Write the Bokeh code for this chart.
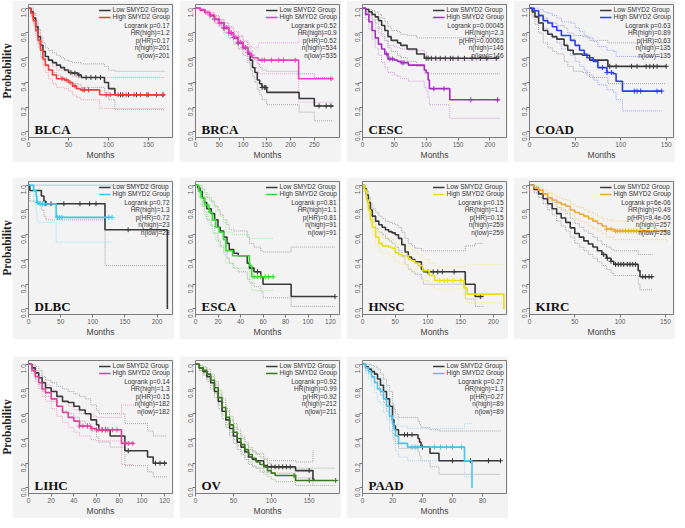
import numpy as np
from bokeh.plotting import figure
from bokeh.models import (Label, Legend, LegendItem, FixedTicker, NumeralTickFormatter,
                          Range1d, Spacer)
from bokeh.layouts import row, column
from bokeh.embed import file_html
from bokeh.resources import INLINE

# ---------------- data ----------------
LEGEND_LOW = "Low SMYD2 Group"
LEGEND_HIGH = "High SMYD2 Group"
X_TITLE = "Months"
Y_TITLE = "Probability"
Y_TICKS = [0.0, 0.2, 0.4, 0.6, 0.8, 1.0]

# BLCA
BLCA_LOW_T = [0, 3, 6, 9, 12, 15, 18, 21, 25, 30, 35, 40, 45, 50, 55, 62, 66, 95, 100, 108, 170]
BLCA_LOW_S = [1.0, .97, .92, .85, .77, .70, .65, .61, .58, .56, .54, .52, .50, .48, .475, .46, .44, .40, .35, .30, .30]
BLCA_LOW_LO = [1.0, .94, .88, .80, .71, .64, .58, .54, .50, .48, .46, .44, .42, .40, .39, .38, .36, .32, .26, .18, .18]
BLCA_LOW_HI = [1.0, 1.0, .96, .90, .83, .77, .72, .68, .66, .64, .62, .60, .58, .57, .56, .56, .55, .53, .50, .49, .49]
BLCA_LOW_CENS = [53, 58, 63, 72, 78, 84, 90, 115, 118, 125, 135, 148, 160, 168]
BLCA_HIGH_T = [0, 3, 6, 9, 12, 15, 18, 21, 25, 30, 35, 45, 50, 55, 60, 65, 89, 170]
BLCA_HIGH_S = [1.0, .96, .90, .82, .74, .66, .59, .54, .50, .46, .43, .42, .40, .37, .35, .34, .30, .30]
BLCA_HIGH_LO = [1.0, .93, .86, .77, .68, .60, .53, .48, .43, .39, .36, .35, .33, .30, .28, .26, .19, .19]
BLCA_HIGH_HI = [1.0, .99, .95, .87, .80, .73, .66, .61, .58, .53, .50, .49, .47, .45, .44, .44, .44, .44]
BLCA_HIGH_CENS = [42, 47, 52, 58, 68, 70, 75, 97, 102, 112, 122, 132, 140, 150, 160, 168]
BLCA_STATS = ["Logrank p=0.17", "HR(high)=1.2", "p(HR)=0.17", "n(high)=201", "n(low)=201"]
BLCA_XTICKS = [0, 50, 100, 150]

# BRCA
BRCA_LOW_T = [0, 10, 20, 30, 40, 50, 60, 70, 80, 90, 100, 110, 115, 120, 125, 130, 135, 140, 150, 218, 250, 290]
BRCA_LOW_S = [1.0, .985, .965, .94, .91, .88, .84, .80, .76, .72, .68, .63, .58, .52, .48, .42, .39, .36, .32, .27, .21, .21]
BRCA_LOW_LO = [1.0, .975, .95, .92, .88, .85, .80, .76, .71, .67, .62, .56, .50, .45, .40, .34, .30, .26, .22, .16, .09, .09]
BRCA_LOW_HI = [1.0, .995, .98, .96, .94, .91, .88, .85, .81, .77, .73, .69, .66, .63, .58, .55, .52, .50, .49, .47, .44, .44]
BRCA_LOW_CENS = [60, 75, 90, 105, 140, 145, 148, 260, 275, 285]
BRCA_HIGH_T = [0, 10, 20, 30, 40, 50, 60, 70, 80, 90, 100, 110, 115, 120, 132, 217, 290]
BRCA_HIGH_S = [1.0, .985, .965, .945, .91, .88, .845, .80, .765, .725, .685, .645, .62, .60, .58, .43, .43]
BRCA_HIGH_LO = [1.0, .975, .95, .925, .885, .85, .81, .76, .72, .67, .63, .58, .55, .52, .47, .24, .24]
BRCA_HIGH_HI = [1.0, .995, .98, .965, .935, .91, .88, .84, .81, .78, .74, .71, .69, .68, .72, .79, .79]
BRCA_HIGH_CENS = [30, 40, 50, 55, 60, 65, 70, 75, 80, 85, 90, 95, 100, 105, 110, 118, 140, 145, 160, 175, 185, 210, 285]
BRCA_STATS = ["Logrank p=0.52", "HR(high)=0.9", "p(HR)=0.52", "n(high)=534", "n(low)=535"]
BRCA_XTICKS = [0, 50, 100, 150, 200, 250]

# CESC
CESC_LOW_T = [0, 5, 10, 15, 20, 25, 30, 35, 40, 45, 55, 60, 70, 85, 97, 215]
CESC_LOW_S = [1.0, .99, .97, .95, .93, .90, .86, .82, .77, .74, .72, .70, .67, .63, .595, .595]
CESC_LOW_LO = [1.0, .97, .94, .91, .88, .84, .79, .74, .68, .65, .62, .60, .57, .53, .47, .47]
CESC_LOW_HI = [1.0, 1.0, .99, .98, .97, .95, .92, .89, .85, .82, .81, .79, .78, .76, .76, .76]
CESC_LOW_CENS = [100, 103, 108, 115, 122, 130, 138, 142, 150, 160, 172, 185, 195, 210]
CESC_HIGH_T = [0, 5, 10, 15, 20, 25, 30, 35, 40, 50, 55, 60, 72, 97, 100, 103, 105, 137, 215]
CESC_HIGH_S = [1.0, .95, .89, .82, .76, .71, .67, .63, .59, .58, .57, .56, .54, .50, .48, .42, .35, .26, .26]
CESC_HIGH_LO = [1.0, .91, .83, .75, .68, .62, .56, .52, .48, .46, .45, .43, .41, .36, .33, .28, .22, .11, .11]
CESC_HIGH_HI = [1.0, .99, .95, .90, .84, .80, .77, .74, .70, .69, .68, .67, .66, .64, .62, .60, .58, .58, .58]
CESC_HIGH_CENS = [38, 43, 47, 62, 65, 112, 128, 170, 212]
CESC_STATS = ["Logrank p=0.00045", "HR(high)=2.3", "p(HR)=0.00063", "n(high)=146", "n(low)=146"]
CESC_XTICKS = [0, 50, 100, 150, 200]

# COAD
COAD_LOW_T = [0, 3, 6, 10, 15, 20, 25, 30, 38, 42, 48, 58, 66, 86, 150]
COAD_LOW_S = [1.0, .97, .93, .88, .82, .79, .77, .75, .70, .66, .63, .62, .58, .53, .53]
COAD_LOW_LO = [1.0, .93, .87, .80, .72, .68, .65, .63, .57, .53, .49, .48, .44, .39, .39]
COAD_LOW_HI = [1.0, 1.0, .98, .95, .92, .89, .88, .86, .84, .80, .78, .77, .74, .72, .72]
COAD_LOW_CENS = [88, 95, 112, 118, 128, 132, 136, 140, 150]
COAD_HIGH_T = [0, 5, 10, 15, 20, 25, 30, 35, 45, 50, 55, 60, 63, 70, 75, 85, 92, 95, 102, 145]
COAD_HIGH_S = [1.0, .98, .94, .90, .88, .85, .82, .78, .74, .70, .66, .63, .60, .57, .52, .48, .47, .41, .33, .33]
COAD_HIGH_LO = [1.0, .94, .88, .84, .80, .76, .72, .67, .62, .57, .53, .50, .46, .42, .38, .34, .32, .26, .17, .17]
COAD_HIGH_HI = [1.0, 1.0, .99, .97, .96, .94, .92, .89, .88, .84, .81, .78, .76, .73, .69, .66, .65, .61, .61, .61]
COAD_HIGH_CENS = [80, 85, 90, 115, 118, 122, 140, 145]
COAD_STATS = ["Logrank p=0.63", "HR(high)=0.89", "p(HR)=0.63", "n(high)=135", "n(low)=135"]
COAD_XTICKS = [0, 50, 100, 150]

# DLBC
DLBC_LOW_T = [0, 2, 20, 24, 27, 119, 216]
DLBC_LOW_S = [1.0, .957, .913, .87, .85, .64, 0.0]
DLBC_LOW_LO = [1.0, .87, .80, .75, .72, .35, .35]
DLBC_LOW_HI = [1.0, 1.0, 1.0, 1.0, 1.0, 1.0, 1.0]
DLBC_LOW_CENS = [27, 35, 55, 80, 95, 105, 155]
DLBC_HIGH_T = [0, 8, 12, 13, 15, 43, 130]
DLBC_HIGH_S = [1.0, .955, .91, .86, .85, .74, .74]
DLBC_HIGH_LO = [1.0, .87, .80, .72, .70, .54, .54]
DLBC_HIGH_HI = [1.0, 1.0, 1.0, 1.0, 1.0, 1.0, 1.0]
DLBC_HIGH_CENS = [14, 18, 22, 25, 45, 48, 52, 125, 130]
DLBC_STATS = ["Logrank p=0.72", "HR(high)=1.3", "p(HR)=0.72", "n(high)=23", "n(low)=23"]
DLBC_XTICKS = [0, 50, 100, 150, 200]

# ESCA
ESCA_LOW_T = [0, 2, 4, 6, 8, 10, 14, 17, 20, 22, 25, 28, 30, 34, 38, 46, 48, 52, 58, 60, 85, 124]
ESCA_LOW_S = [1.0, .98, .95, .90, .86, .81, .77, .72, .66, .63, .58, .53, .48, .45, .43, .37, .33, .30, .26, .20, .10, .10]
ESCA_LOW_LO = [1.0, .95, .90, .83, .78, .72, .67, .61, .55, .51, .46, .41, .37, .33, .30, .24, .21, .18, .14, .09, .02, .02]
ESCA_LOW_HI = [1.0, 1.0, 1.0, .97, .94, .90, .87, .83, .80, .76, .72, .68, .64, .63, .63, .58, .53, .50, .47, .46, .50, .50]
ESCA_LOW_CENS = [50, 55, 124]
ESCA_HIGH_T = [0, 3, 5, 8, 12, 15, 18, 21, 25, 27, 33, 48, 50, 69]
ESCA_HIGH_S = [1.0, .95, .90, .84, .78, .72, .66, .62, .56, .47, .43, .35, .26, .26]
ESCA_HIGH_LO = [1.0, .90, .83, .75, .68, .61, .55, .50, .44, .37, .33, .24, .15, .15]
ESCA_HIGH_HI = [1.0, 1.0, .97, .93, .88, .84, .79, .75, .70, .62, .60, .57, .57, .57]
ESCA_HIGH_CENS = [52, 55, 58, 62, 65, 69]
ESCA_STATS = ["Logrank p=0.81", "HR(high)=1.1", "p(HR)=0.81", "n(high)=91", "n(low)=91"]
ESCA_XTICKS = [0, 20, 40, 60, 80, 100, 120]

# HNSC
HNSC_LOW_T = [0, 3, 6, 9, 12, 15, 20, 25, 30, 35, 40, 45, 50, 55, 60, 65, 70, 75, 80, 90, 93, 157, 172, 185]
HNSC_LOW_S = [1.0, .97, .92, .86, .80, .75, .71, .68, .66, .64, .625, .615, .60, .57, .52, .46, .42, .40, .38, .32, .30, .20, .10, .10]
HNSC_LOW_LO = [1.0, .95, .89, .82, .76, .70, .65, .62, .60, .57, .55, .53, .50, .47, .42, .36, .32, .30, .28, .24, .20, .08, .02, .02]
HNSC_LOW_HI = [1.0, .99, .95, .90, .85, .81, .78, .75, .73, .71, .70, .69, .68, .66, .62, .57, .53, .51, .49, .47, .47, .51, .53, .53]
HNSC_LOW_CENS = [100, 108, 115, 122, 140, 180]
HNSC_HIGH_T = [0, 3, 6, 9, 12, 15, 20, 25, 30, 40, 45, 50, 55, 60, 70, 75, 80, 85, 92, 102, 110, 155, 160, 216]
HNSC_HIGH_S = [1.0, .96, .88, .80, .72, .66, .58, .53, .51, .50, .49, .455, .44, .43, .40, .39, .37, .35, .31, .27, .23, .17, .12, 0.0]
HNSC_HIGH_LO = [1.0, .93, .84, .75, .67, .60, .52, .47, .45, .43, .42, .38, .37, .36, .33, .31, .29, .27, .23, .19, .16, .10, .05, .05]
HNSC_HIGH_HI = [1.0, .99, .92, .85, .78, .72, .64, .60, .58, .57, .56, .53, .52, .51, .49, .48, .46, .44, .40, .37, .34, .34, .36, .36]
HNSC_HIGH_CENS = [118, 125, 130, 138, 150]
HNSC_STATS = ["Logrank p=0.15", "HR(high)=1.2", "p(HR)=0.15", "n(high)=259", "n(low)=259"]
HNSC_XTICKS = [0, 50, 100, 150, 200]

# KIRC
KIRC_LOW_T = [0, 5, 10, 15, 20, 25, 30, 35, 40, 45, 50, 55, 60, 65, 70, 75, 80, 85, 90, 93, 120, 122, 136]
KIRC_LOW_S = [1.0, .965, .93, .89, .85, .81, .77, .735, .70, .655, .61, .58, .55, .525, .50, .47, .44, .41, .385, .36, .31, .26, .26]
KIRC_LOW_LO = [1.0, .94, .90, .85, .80, .76, .71, .67, .63, .58, .53, .50, .47, .44, .41, .38, .35, .32, .29, .27, .20, .155, .155]
KIRC_LOW_HI = [1.0, .99, .96, .93, .89, .86, .82, .80, .77, .73, .69, .66, .63, .61, .58, .55, .52, .50, .48, .47, .44, .44, .44]
KIRC_LOW_CENS = [82, 86, 90, 95, 98, 101, 104, 108, 111, 114, 117, 125, 128, 132, 135]
KIRC_HIGH_T = [0, 5, 10, 15, 20, 25, 30, 35, 40, 45, 50, 55, 60, 65, 70, 75, 80, 85, 93, 152]
KIRC_HIGH_S = [1.0, .98, .96, .93, .90, .88, .86, .845, .83, .80, .78, .765, .75, .73, .71, .69, .67, .645, .63, .63]
KIRC_HIGH_LO = [1.0, .96, .94, .90, .87, .84, .82, .80, .79, .76, .73, .71, .70, .67, .65, .63, .61, .58, .56, .54]
KIRC_HIGH_HI = [1.0, 1.0, .98, .96, .94, .92, .90, .89, .88, .85, .83, .82, .80, .78, .77, .75, .73, .72, .71, .71]
KIRC_HIGH_CENS = [85, 90, 95, 97, 100, 103, 106, 109, 112, 115, 118, 122, 125, 130, 140, 150]
KIRC_STATS = ["Logrank p=6e-06", "HR(high)=0.49", "p(HR)=9.4e-06", "n(high)=257", "n(low)=258"]
KIRC_XTICKS = [0, 50, 100, 150]

# LIHC
LIHC_LOW_T = [0, 3, 6, 9, 12, 15, 20, 25, 30, 35, 40, 45, 50, 55, 60, 62, 72, 85, 105, 110, 122]
LIHC_LOW_S = [1.0, .97, .93, .89, .85, .81, .78, .74, .70, .69, .66, .63, .60, .55, .51, .47, .42, .30, .25, .20, .20]
LIHC_LOW_LO = [1.0, .94, .88, .83, .78, .74, .70, .66, .62, .60, .57, .54, .52, .46, .41, .37, .33, .18, .13, .09, .09]
LIHC_LOW_HI = [1.0, 1.0, .98, .95, .90, .87, .85, .82, .80, .78, .76, .74, .72, .67, .63, .60, .60, .52, .46, .42, .42]
LIHC_LOW_CENS = [65, 68, 88, 112, 116, 120]
LIHC_HIGH_T = [0, 3, 6, 9, 12, 15, 20, 25, 30, 35, 40, 45, 55, 60, 82, 93]
LIHC_HIGH_S = [1.0, .95, .90, .85, .80, .77, .72, .66, .61, .57, .54, .50, .48, .47, .36, .36]
LIHC_HIGH_LO = [1.0, .92, .86, .80, .74, .70, .64, .58, .53, .49, .45, .42, .39, .38, .19, .19]
LIHC_HIGH_HI = [1.0, .99, .95, .91, .86, .83, .79, .74, .70, .66, .63, .60, .58, .57, .67, .67]
LIHC_HIGH_CENS = [45, 48, 52, 56, 60, 62, 65, 68, 70, 74, 78, 85, 88, 92]
LIHC_STATS = ["Logrank p=0.14", "HR(high)=1.3", "p(HR)=0.15", "n(high)=182", "n(low)=182"]
LIHC_XTICKS = [0, 20, 40, 60, 80, 100, 120]

# OV
OV_LOW_T = [0, 5, 10, 15, 20, 25, 30, 35, 40, 45, 50, 55, 60, 65, 70, 75, 80, 90, 95, 132, 155, 157]
OV_LOW_S = [1.0, .97, .94, .90, .85, .78, .70, .62, .55, .48, .42, .37, .33, .29, .25, .23, .22, .18, .17, .14, .07, .07]
OV_LOW_LO = [1.0, .95, .91, .86, .80, .73, .64, .56, .49, .42, .36, .31, .27, .23, .19, .17, .16, .13, .12, .08, .02, .02]
OV_LOW_HI = [1.0, .99, .97, .94, .90, .84, .76, .69, .62, .55, .49, .44, .40, .35, .31, .29, .28, .24, .22, .21, .30, .30]
OV_LOW_CENS = [95, 100, 105, 110, 115, 120, 125, 150]
OV_HIGH_T = [0, 5, 10, 15, 20, 25, 30, 35, 40, 45, 50, 55, 60, 65, 70, 75, 80, 85, 90, 95, 100, 105, 132, 185]
OV_HIGH_S = [1.0, .97, .95, .92, .87, .81, .73, .65, .57, .51, .45, .40, .35, .31, .27, .24, .21, .19, .17, .14, .12, .10, .06, .06]
OV_HIGH_LO = [1.0, .95, .92, .88, .83, .76, .67, .59, .51, .45, .39, .34, .29, .25, .21, .18, .16, .13, .11, .09, .07, .05, .02, .02]
OV_HIGH_HI = [1.0, .99, .98, .96, .92, .86, .79, .72, .64, .58, .52, .47, .42, .37, .33, .30, .27, .25, .23, .20, .18, .16, .16, .16]
OV_HIGH_CENS = [130, 150, 185]
OV_STATS = ["Logrank p=0.92", "HR(high)=0.99", "p(HR)=0.92", "n(high)=212", "n(low)=211"]
OV_XTICKS = [0, 50, 100, 150]

# PAAD
PAAD_LOW_T = [0, 2, 4, 6, 8, 10, 12, 14, 16, 18, 20, 21, 22, 24, 37, 38, 39, 45, 51, 92]
PAAD_LOW_S = [1.0, .98, .96, .94, .92, .88, .83, .78, .72, .66, .55, .50, .47, .43, .40, .37, .33, .28, .22, .22]
PAAD_LOW_LO = [1.0, .95, .92, .89, .86, .81, .75, .69, .62, .55, .44, .39, .36, .32, .29, .26, .22, .17, .11, .11]
PAAD_LOW_HI = [1.0, 1.0, 1.0, .99, .98, .96, .92, .88, .83, .78, .68, .64, .60, .57, .54, .51, .49, .47, .46, .46]
PAAD_LOW_CENS = [28, 30, 33, 40, 60, 72, 84, 92]
PAAD_HIGH_T = [0, 2, 4, 6, 8, 10, 12, 14, 16, 18, 20, 21, 22, 24, 30, 68, 73]
PAAD_HIGH_S = [1.0, .97, .94, .90, .85, .80, .78, .72, .66, .58, .52, .47, .42, .36, .33, .22, 0.0]
PAAD_HIGH_LO = [1.0, .93, .88, .83, .77, .70, .68, .61, .55, .46, .40, .35, .30, .25, .22, .09, .09]
PAAD_HIGH_HI = [1.0, 1.0, .99, .97, .93, .90, .88, .84, .79, .72, .66, .61, .56, .50, .48, .52, .52]
PAAD_HIGH_CENS = [33, 35, 37, 48, 52, 56, 60, 66]
PAAD_STATS = ["Logrank p=0.27", "HR(high)=1.3", "p(HR)=0.27", "n(high)=89", "n(low)=89"]
PAAD_XTICKS = [0, 20, 40, 60, 80]

# ---------------- styling ----------------
LOW_COLOR, LOW_CI = "#3a3a3a", "#a5a5a5"
BG = "#f3f3f3"
PW, PH = 162, 162
BTOP, BBOT = 4, 25
YMIN, YMAX = -0.045, 1.03
SANS = "Liberation Sans"
SERIF = "Liberation Serif"


def make_panel(name, xmax, xticks, color, ci_color, low, high, stats):
    p = figure(width=PW, height=PH, x_range=Range1d(0, xmax), y_range=Range1d(YMIN, YMAX),
               output_backend="svg", toolbar_location=None,
               min_border_left=16, min_border_right=2, min_border_top=BTOP, min_border_bottom=BBOT)
    p.background_fill_color = BG
    p.border_fill_color = BG
    p.outline_line_color = "#7a7a7a"
    p.outline_line_width = 1
    p.grid.visible = False

    for ax in (p.xaxis[0], p.yaxis[0]):
        ax.axis_line_color = None
        ax.major_tick_in = 0
        ax.major_tick_out = 3
        ax.minor_tick_line_color = None
        ax.major_tick_line_color = "#777777"
        ax.major_label_text_font = SANS
        ax.major_label_text_font_size = "6.5px"
        ax.major_label_text_color = "#606060"
    p.xaxis.ticker = FixedTicker(ticks=xticks)
    p.yaxis.ticker = FixedTicker(ticks=Y_TICKS)
    p.yaxis.formatter = NumeralTickFormatter(format="0.0")
    p.yaxis.major_label_orientation = np.pi / 2
    p.xaxis.major_label_standoff = 1
    p.yaxis.major_label_standoff = 2
    p.xaxis.axis_label = X_TITLE
    p.xaxis.axis_label_text_font = SANS
    p.xaxis.axis_label_text_font_style = "normal"
    p.xaxis.axis_label_text_font_size = "8.5px"
    p.xaxis.axis_label_text_color = "#444444"
    p.xaxis.axis_label_standoff = 0

    groups = [(low, LOW_COLOR, LOW_CI), (high, color, ci_color)]
    for (t, s, lo, hi, cens), c, cc in groups:
        for band in (lo, hi):
            p.step(t, band, mode="after", line_color=cc, line_width=1, line_dash="1 1")
    rends = []
    for (t, s, lo, hi, cens), c, cc in groups:
        r = p.step(t, s, mode="after", line_color=c, line_width=1.6)
        rends.append(r)
        tt = np.asarray(t, float)
        ss = np.asarray(s, float)
        idx = np.searchsorted(tt, np.asarray(cens, float), side="right") - 1
        p.scatter(list(cens), ss[idx].tolist(), marker="cross", size=5, line_color=c, line_width=1)

    legend = Legend(items=[LegendItem(label=LEGEND_LOW, renderers=[rends[0]]),
                           LegendItem(label=LEGEND_HIGH, renderers=[rends[1]])],
                    location="top_right", border_line_alpha=0, background_fill_alpha=0,
                    label_text_font=SANS, label_text_font_size="6.5px", label_text_color="#333333",
                    glyph_width=12, glyph_height=6, label_height=6, label_standoff=2,
                    spacing=0, padding=0, margin=2)
    p.add_layout(legend)

    for k, txt in enumerate(stats):
        p.add_layout(Label(x=xmax, y=YMAX, x_offset=-3, y_offset=-(2 + 7.5 * (k + 2.5)),
                           text=txt, text_align="right", text_baseline="middle",
                           text_font=SANS, text_font_size="6.5px", text_color="#333333"))

    p.add_layout(Label(x=0, y=YMIN, x_offset=6, y_offset=8, text=name,
                       text_font=SERIF, text_font_style="bold", text_font_size="13px",
                       text_color="#111111", text_baseline="alphabetic"))
    return p


def make_strip():
    s = figure(width=12, height=PH, x_range=Range1d(0, 1), y_range=Range1d(0, 1),
               x_axis_type=None, y_axis_type=None, output_backend="svg", toolbar_location=None,
               min_border_left=0, min_border_right=0, min_border_top=BTOP, min_border_bottom=BBOT)
    s.outline_line_color = None
    s.background_fill_color = "white"
    s.border_fill_color = "white"
    s.add_layout(Label(x=0.5, y=0.5, text=Y_TITLE, angle=np.pi / 2,
                       text_align="center", text_baseline="middle", text_font=SERIF,
                       text_font_style="bold", text_font_size="11.5px", text_color="#222222"))
    return s


def grp(t, s, lo, hi, c):
    assert len(t) == len(s) == len(lo) == len(hi)
    return (t, s, lo, hi, c)


panels = {
    "BLCA": make_panel("BLCA", 180, BLCA_XTICKS, "#f03c3c", "#f7a0a0",
                       grp(BLCA_LOW_T, BLCA_LOW_S, BLCA_LOW_LO, BLCA_LOW_HI, BLCA_LOW_CENS),
                       grp(BLCA_HIGH_T, BLCA_HIGH_S, BLCA_HIGH_LO, BLCA_HIGH_HI, BLCA_HIGH_CENS), BLCA_STATS),
    "BRCA": make_panel("BRCA", 303, BRCA_XTICKS, "#f03cc8", "#f5a3e3",
                       grp(BRCA_LOW_T, BRCA_LOW_S, BRCA_LOW_LO, BRCA_LOW_HI, BRCA_LOW_CENS),
                       grp(BRCA_HIGH_T, BRCA_HIGH_S, BRCA_HIGH_LO, BRCA_HIGH_HI, BRCA_HIGH_CENS), BRCA_STATS),
    "CESC": make_panel("CESC", 226, CESC_XTICKS, "#a42cc4", "#d59be3",
                       grp(CESC_LOW_T, CESC_LOW_S, CESC_LOW_LO, CESC_LOW_HI, CESC_LOW_CENS),
                       grp(CESC_HIGH_T, CESC_HIGH_S, CESC_HIGH_LO, CESC_HIGH_HI, CESC_HIGH_CENS), CESC_STATS),
    "COAD": make_panel("COAD", 158, COAD_XTICKS, "#2a3cf0", "#9aa4f5",
                       grp(COAD_LOW_T, COAD_LOW_S, COAD_LOW_LO, COAD_LOW_HI, COAD_LOW_CENS),
                       grp(COAD_HIGH_T, COAD_HIGH_S, COAD_HIGH_LO, COAD_HIGH_HI, COAD_HIGH_CENS), COAD_STATS),
    "DLBC": make_panel("DLBC", 224, DLBC_XTICKS, "#2ccdf0", "#95e3f5",
                       grp(DLBC_LOW_T, DLBC_LOW_S, DLBC_LOW_LO, DLBC_LOW_HI, DLBC_LOW_CENS),
                       grp(DLBC_HIGH_T, DLBC_HIGH_S, DLBC_HIGH_LO, DLBC_HIGH_HI, DLBC_HIGH_CENS), DLBC_STATS),
    "ESCA": make_panel("ESCA", 128, ESCA_XTICKS, "#2ee02e", "#9bef9b",
                       grp(ESCA_LOW_T, ESCA_LOW_S, ESCA_LOW_LO, ESCA_LOW_HI, ESCA_LOW_CENS),
                       grp(ESCA_HIGH_T, ESCA_HIGH_S, ESCA_HIGH_LO, ESCA_HIGH_HI, ESCA_HIGH_CENS), ESCA_STATS),
    "HNSC": make_panel("HNSC", 220, HNSC_XTICKS, "#e8e010", "#f2ee8a",
                       grp(HNSC_LOW_T, HNSC_LOW_S, HNSC_LOW_LO, HNSC_LOW_HI, HNSC_LOW_CENS),
                       grp(HNSC_HIGH_T, HNSC_HIGH_S, HNSC_HIGH_LO, HNSC_HIGH_HI, HNSC_HIGH_CENS), HNSC_STATS),
    "KIRC": make_panel("KIRC", 159, KIRC_XTICKS, "#f0a830", "#f5d090",
                       grp(KIRC_LOW_T, KIRC_LOW_S, KIRC_LOW_LO, KIRC_LOW_HI, KIRC_LOW_CENS),
                       grp(KIRC_HIGH_T, KIRC_HIGH_S, KIRC_HIGH_LO, KIRC_HIGH_HI, KIRC_HIGH_CENS), KIRC_STATS),
    "LIHC": make_panel("LIHC", 127, LIHC_XTICKS, "#e0409a", "#f0a0cc",
                       grp(LIHC_LOW_T, LIHC_LOW_S, LIHC_LOW_LO, LIHC_LOW_HI, LIHC_LOW_CENS),
                       grp(LIHC_HIGH_T, LIHC_HIGH_S, LIHC_HIGH_LO, LIHC_HIGH_HI, LIHC_HIGH_CENS), LIHC_STATS),
    "OV": make_panel("OV", 190, OV_XTICKS, "#3b7a1c", "#9dbb8d",
                     grp(OV_LOW_T, OV_LOW_S, OV_LOW_LO, OV_LOW_HI, OV_LOW_CENS),
                     grp(OV_HIGH_T, OV_HIGH_S, OV_HIGH_LO, OV_HIGH_HI, OV_HIGH_CENS), OV_STATS),
    "PAAD": make_panel("PAAD", 96, PAAD_XTICKS, "#4cc2f0", "#a6e0f7",
                       grp(PAAD_LOW_T, PAAD_LOW_S, PAAD_LOW_LO, PAAD_LOW_HI, PAAD_LOW_CENS),
                       grp(PAAD_HIGH_T, PAAD_HIGH_S, PAAD_HIGH_LO, PAAD_HIGH_HI, PAAD_HIGH_CENS), PAAD_STATS),
}

GAP = 5


def make_row(names):
    kids = [make_strip()]
    for i, n in enumerate(names):
        if i > 0:
            kids.append(Spacer(width=GAP, height=PH))
        kids.append(panels[n])
    return row(*kids)


layout = column(
    make_row(["BLCA", "BRCA", "CESC", "COAD"]),
    Spacer(width=10, height=15),
    make_row(["DLBC", "ESCA", "HNSC", "KIRC"]),
    Spacer(width=10, height=17),
    make_row(["LIHC", "OV", "PAAD"]),
)

open("out.html", "w").write(file_html(layout, INLINE))
